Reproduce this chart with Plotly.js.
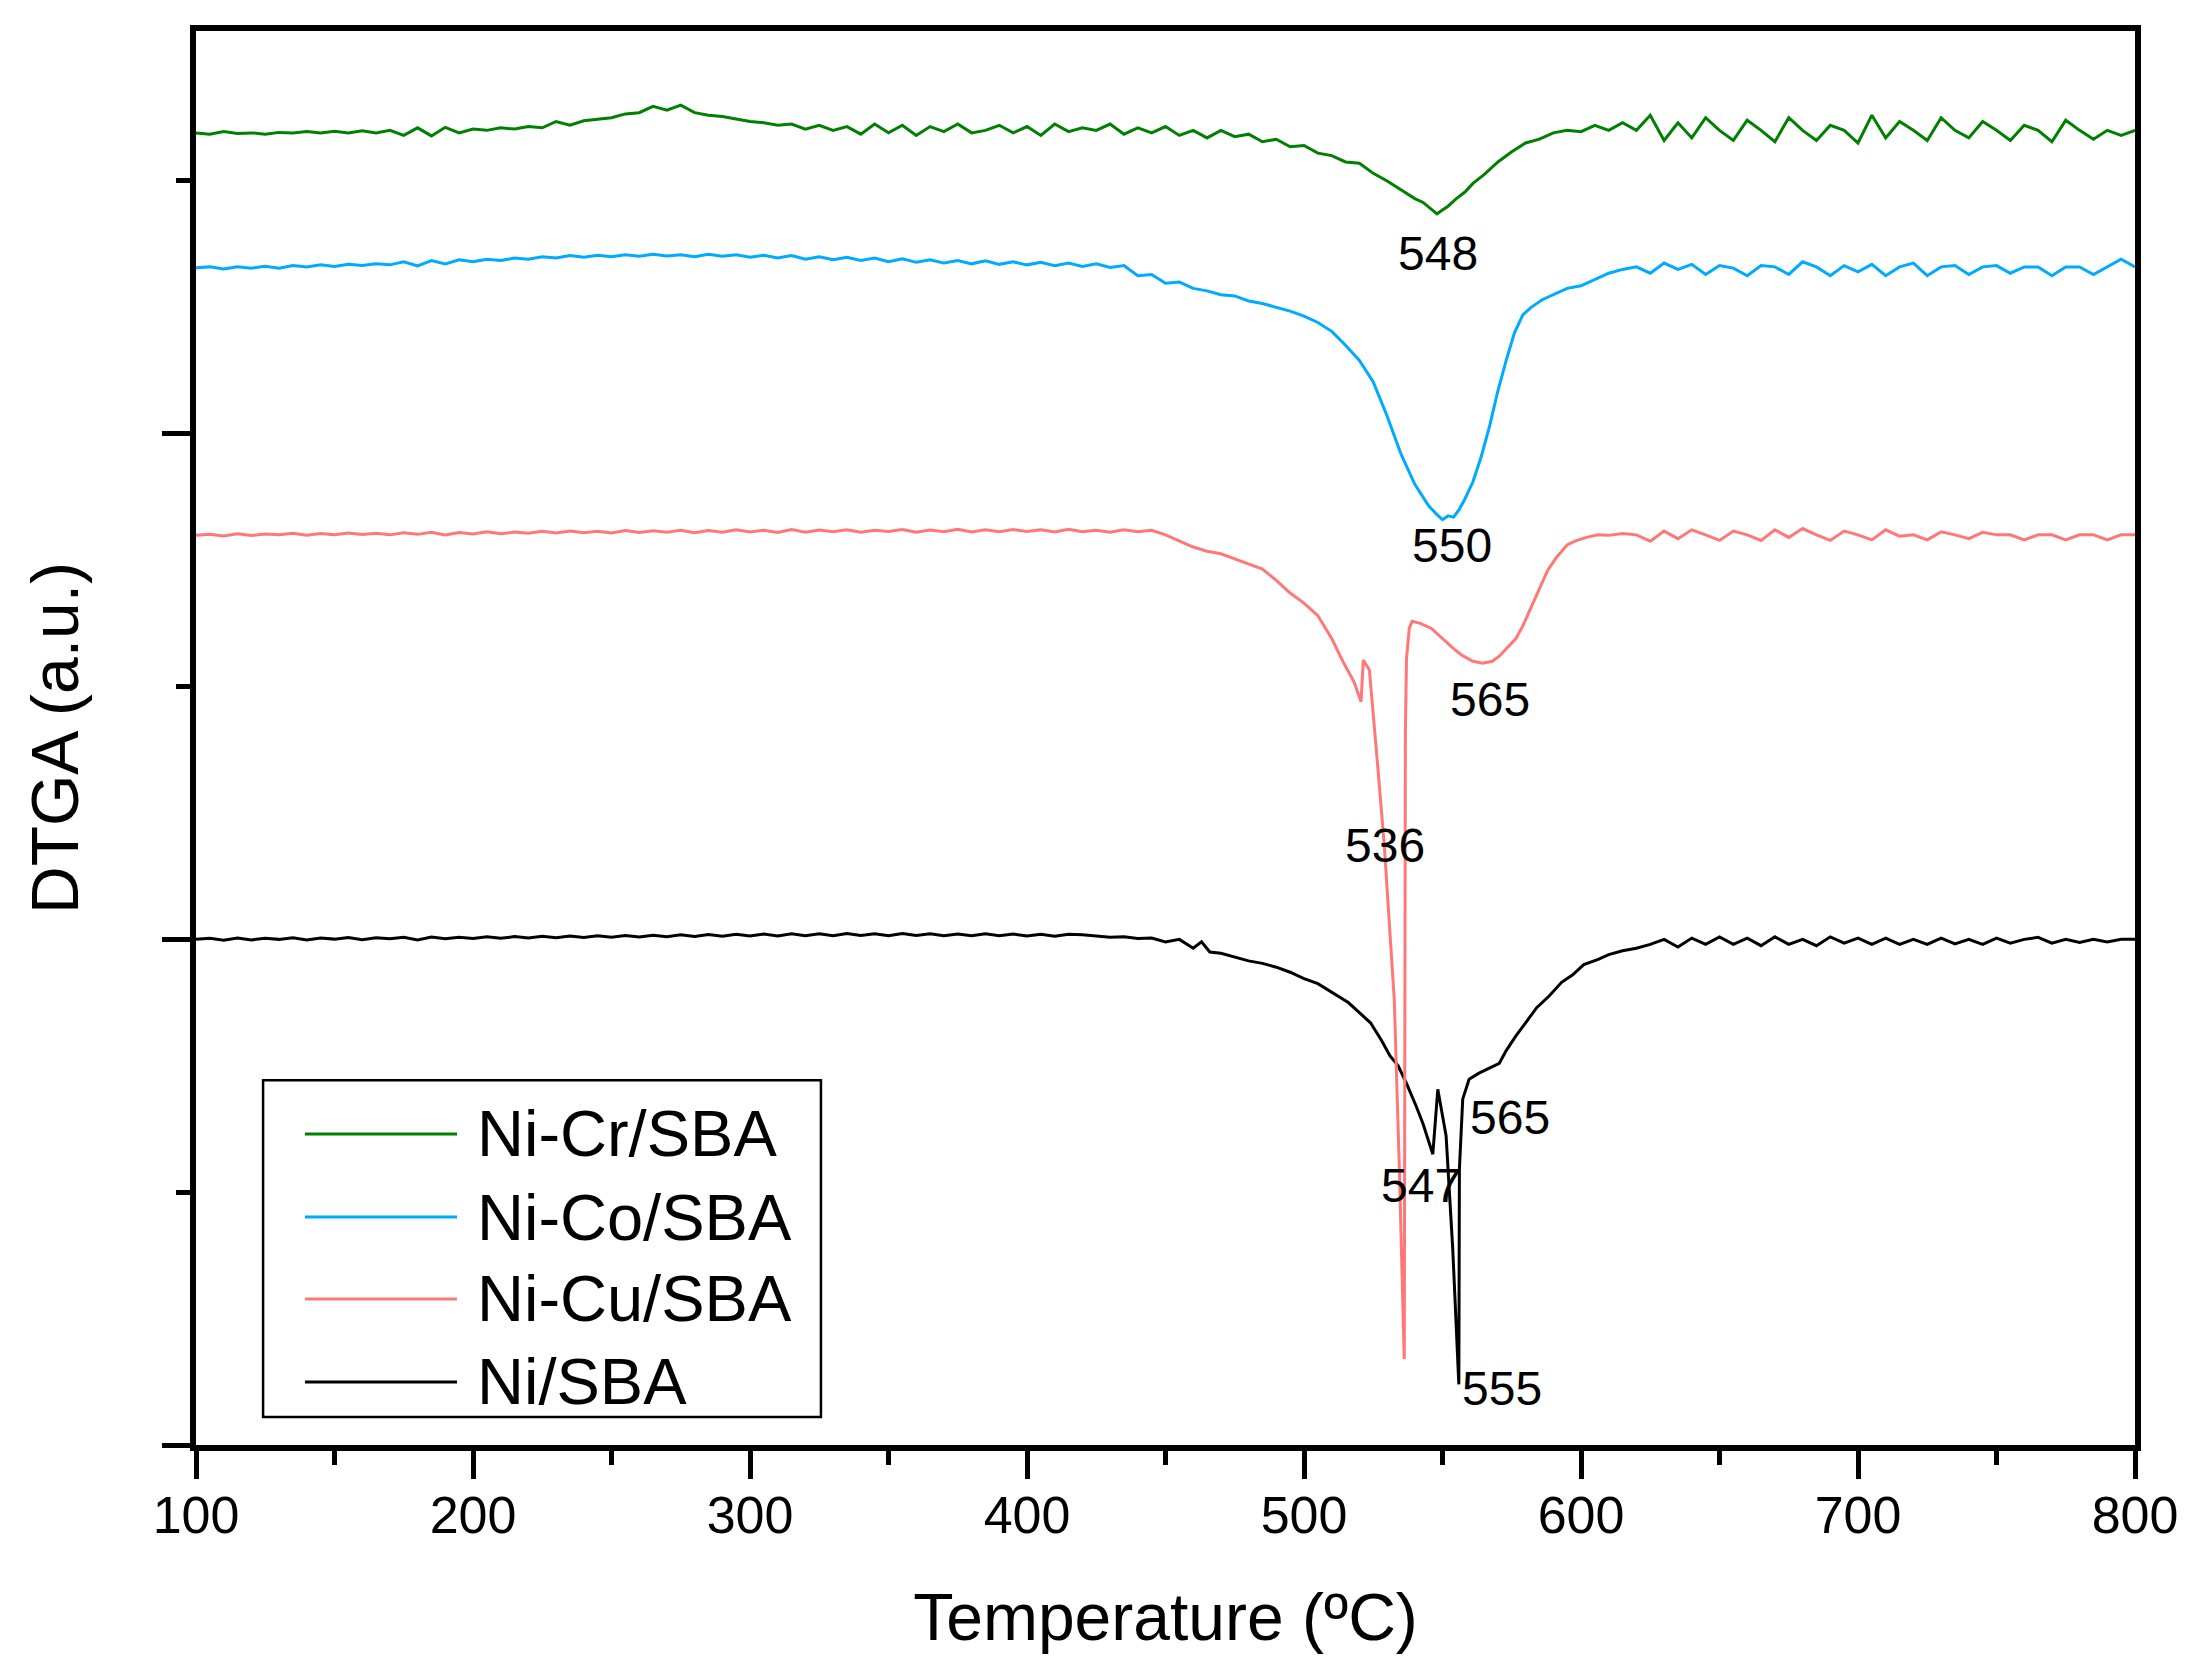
<!DOCTYPE html>
<html>
<head>
<meta charset="utf-8">
<script src="https://cdn.plot.ly/plotly-3.0.1.min.js"></script>
<style>
  body { margin: 0; background: #fff; }
</style>
</head>
<body>
<div id="myDiv"></div>
<script>
// temperature grids shared by all four curves (ºC)
var tempLow = [100, 105, 110, 115, 120, 125, 130, 135, 140, 145,
               150, 155, 160, 165, 170, 175, 180, 185, 190, 195,
               200, 205, 210, 215, 220, 225, 230, 235, 240, 245,
               250, 255, 260, 265, 270, 275, 280, 285, 290, 295,
               300, 305, 310, 315, 320, 325, 330, 335, 340, 345,
               350, 355, 360, 365, 370, 375, 380, 385, 390, 395,
               400, 405, 410, 415, 420, 425, 430, 435, 440];
var tempHigh = [620, 625, 630, 635, 640, 645, 650, 655, 660, 665,
                670, 675, 680, 685, 690, 695, 700, 705, 710, 715,
                720, 725, 730, 735, 740, 745, 750, 755, 760, 765,
                770, 775, 780, 785, 790, 795, 800];

var seriesNames = ['Ni-Cr/SBA', 'Ni-Co/SBA', 'Ni-Cu/SBA', 'Ni/SBA'];
var seriesColors = ['#008000', '#00AAFF', '#FF7777', '#000000'];

// Ni-Cr/SBA
var crLow = [3.19, 3.185, 3.195, 3.188, 3.19, 3.185, 3.192, 3.19, 3.195, 3.19,
             3.196, 3.19, 3.198, 3.19, 3.2, 3.18, 3.21, 3.178, 3.212, 3.19,
             3.205, 3.2, 3.21, 3.205, 3.215, 3.21, 3.235, 3.22, 3.238, 3.245,
             3.25, 3.265, 3.27, 3.295, 3.28, 3.3, 3.27, 3.26, 3.255, 3.245,
             3.235, 3.23, 3.22, 3.225, 3.205, 3.22, 3.2, 3.215, 3.185, 3.225,
             3.19, 3.22, 3.18, 3.215, 3.195, 3.225, 3.19, 3.2, 3.22, 3.19,
             3.215, 3.18, 3.225, 3.195, 3.21, 3.2, 3.225, 3.185, 3.21];
var crMidT = [445, 450, 455, 460, 465, 470, 475, 480, 485, 490, 495, 500, 505, 510, 515, 520,
              525, 530, 535, 540, 543, 546, 548, 550, 552, 555, 558, 561, 565, 570, 575, 580,
              585, 590, 595, 600, 605, 610, 615];
var crMid = [3.19, 3.215, 3.18, 3.2, 3.17, 3.2, 3.175, 3.185, 3.155, 3.165, 3.135, 3.14, 3.11, 3.1, 3.075, 3.07,
             3.03, 3.0, 2.965, 2.93, 2.915, 2.89, 2.87, 2.885, 2.9, 2.93, 2.955, 2.99, 3.025, 3.075, 3.115, 3.15,
             3.165, 3.19, 3.2, 3.195, 3.22, 3.2, 3.23];
var crHigh = [3.2, 3.26, 3.16, 3.23, 3.17, 3.25, 3.2, 3.16, 3.24, 3.2,
              3.155, 3.25, 3.2, 3.16, 3.22, 3.2, 3.15, 3.26, 3.17, 3.235,
              3.2, 3.16, 3.25, 3.2, 3.17, 3.235, 3.2, 3.16, 3.22, 3.2,
              3.155, 3.24, 3.2, 3.165, 3.2, 3.18, 3.2];

// Ni-Co/SBA
var coLow = [2.657, 2.66, 2.652, 2.66, 2.655, 2.662, 2.655, 2.665, 2.66, 2.668,
             2.662, 2.67, 2.665, 2.672, 2.668, 2.68, 2.664, 2.685, 2.672, 2.688,
             2.68, 2.69, 2.685, 2.695, 2.69, 2.7, 2.695, 2.705, 2.698, 2.706,
             2.7, 2.708, 2.702, 2.71, 2.703, 2.708, 2.7, 2.71, 2.702, 2.708,
             2.698, 2.706, 2.695, 2.705, 2.69, 2.7, 2.688, 2.698, 2.685, 2.695,
             2.68, 2.692, 2.678, 2.688, 2.675, 2.685, 2.672, 2.684, 2.67, 2.68,
             2.668, 2.678, 2.665, 2.675, 2.662, 2.672, 2.658, 2.665, 2.625];
var coMidT = [445, 450, 455, 460, 465, 470, 475, 480, 485, 490, 495, 500, 505, 510, 515, 520,
              525, 530, 535, 540, 545, 548, 550, 552, 554, 556, 558, 561, 564, 567, 570, 573,
              576, 579, 582, 586, 590, 595, 600, 605, 610, 615];
var coMid = [2.63, 2.595, 2.6, 2.575, 2.565, 2.55, 2.545, 2.525, 2.515, 2.5, 2.485, 2.465, 2.44, 2.405, 2.35, 2.29,
             2.205, 2.07, 1.92, 1.8, 1.715, 1.68, 1.66, 1.675, 1.67, 1.7, 1.74, 1.81, 1.91, 2.03, 2.17, 2.29,
             2.4, 2.47, 2.5, 2.53, 2.55, 2.575, 2.585, 2.61, 2.635, 2.65];
var coHigh = [2.66, 2.635, 2.675, 2.65, 2.67, 2.63, 2.665, 2.655, 2.625, 2.665,
              2.66, 2.63, 2.68, 2.66, 2.625, 2.665, 2.64, 2.67, 2.625, 2.66,
              2.675, 2.625, 2.66, 2.665, 2.63, 2.66, 2.665, 2.635, 2.66, 2.66,
              2.625, 2.66, 2.66, 2.63, 2.66, 2.69, 2.66];

// Ni-Cu/SBA
var cuLow = [1.598, 1.602, 1.596, 1.604, 1.598, 1.603, 1.6, 1.606, 1.599, 1.605,
             1.6, 1.607, 1.601, 1.606, 1.6, 1.608, 1.602, 1.61, 1.6, 1.609,
             1.603, 1.612, 1.604, 1.611, 1.606, 1.614, 1.607, 1.615, 1.608, 1.614,
             1.607, 1.617, 1.609, 1.616, 1.61, 1.618, 1.608, 1.617, 1.61, 1.62,
             1.611, 1.618, 1.609, 1.621, 1.61, 1.619, 1.612, 1.62, 1.61, 1.618,
             1.613, 1.621, 1.61, 1.619, 1.612, 1.622, 1.611, 1.62, 1.612, 1.621,
             1.613, 1.62, 1.611, 1.622, 1.612, 1.618, 1.61, 1.62, 1.612];
var cuMidT = [445, 450, 455, 460, 465, 470, 475, 480, 485, 490, 495, 500, 505, 510, 514, 518,
              520.6, 521.4, 523.6, 526.6, 529, 532.6, 534.4, 536.2, 536.6, 537, 538, 539, 542, 546, 550, 554,
              557, 561, 564.5, 568, 570.5, 574, 576.5, 579, 581.4, 585, 588, 591, 595, 598, 602, 606,
              610, 615];
var cuMid = [1.618, 1.6, 1.575, 1.552, 1.535, 1.525, 1.505, 1.485, 1.465, 1.42, 1.37, 1.33, 1.28, 1.19, 1.1, 1.02,
             0.94, 1.105, 1.066, 0.687, 0.37, -0.24, -0.9, -1.66, 0.82, 1.11, 1.23, 1.258, 1.25, 1.23, 1.19, 1.15,
             1.124, 1.1, 1.092, 1.1, 1.12, 1.16, 1.19, 1.24, 1.298, 1.39, 1.46, 1.509, 1.56, 1.576, 1.59, 1.6,
             1.598, 1.605];
var cuHigh = [1.6, 1.575, 1.615, 1.585, 1.62, 1.6, 1.578, 1.615, 1.6, 1.578,
              1.62, 1.59, 1.625, 1.6, 1.578, 1.615, 1.6, 1.58, 1.62, 1.595,
              1.6, 1.58, 1.612, 1.6, 1.585, 1.61, 1.6, 1.6, 1.58, 1.6,
              1.6, 1.58, 1.6, 1.6, 1.58, 1.6, 1.6];

// Ni/SBA
var niLow = [0, 0.004, -0.003, 0.005, -0.002, 0.004, 0, 0.006, -0.002, 0.005,
             0.001, 0.007, -0.001, 0.006, 0.002, 0.008, -0.002, 0.009, 0.002, 0.008,
             0.003, 0.01, 0.004, 0.011, 0.005, 0.012, 0.006, 0.013, 0.007, 0.014,
             0.008, 0.015, 0.009, 0.016, 0.01, 0.018, 0.011, 0.019, 0.012, 0.02,
             0.013, 0.021, 0.013, 0.022, 0.014, 0.022, 0.014, 0.023, 0.015, 0.022,
             0.014, 0.023, 0.015, 0.022, 0.014, 0.021, 0.014, 0.022, 0.014, 0.021,
             0.013, 0.02, 0.012, 0.02, 0.018, 0.012, 0.008, 0.01, 0.003];
var niMidT = [445, 450, 455, 460, 463, 466, 470, 475, 480, 485, 490, 495, 500, 505, 510, 516,
              520, 524, 528, 531, 534, 537, 540.5, 543, 546.5, 548.3, 551.3, 553.7, 555.9, 556.1, 557.3, 559.6,
              563, 567, 570.5, 573, 576.5, 580, 584, 588.5, 593, 597, 601, 606, 610, 615];
var niMid = [0.005, -0.01, 0.0, -0.035, -0.01, -0.05, -0.055, -0.07, -0.085, -0.095, -0.11, -0.13, -0.155, -0.175, -0.21, -0.25,
             -0.29, -0.33, -0.4, -0.46, -0.5, -0.57, -0.66, -0.73, -0.85, -0.593, -0.777, -1.225, -1.76, -0.91, -0.632, -0.553,
             -0.53, -0.51, -0.49, -0.44, -0.382, -0.33, -0.27, -0.224, -0.17, -0.14, -0.1, -0.08, -0.06, -0.045];
var niHigh = [-0.035, -0.02, 0.0, -0.03, 0.005, -0.02, 0.01, -0.02, 0.005, -0.025,
              0.01, -0.02, 0.0, -0.025, 0.01, -0.015, 0.005, -0.02, 0.005, -0.02,
              0.0, -0.02, 0.005, -0.018, 0.0, -0.02, 0.005, -0.015, 0.0, 0.008,
              -0.015, 0.0, -0.012, 0.0, -0.01, 0.0, 0.0];

// peak labels
var peakText = ['548', '550', '565', '536', '565', '547', '555'];
var peakT = [548.3, 553.3, 567.2, 529.4, 574.4, 542.2, 571.6];
var peakY = [2.714, 1.556, 0.948, 0.372, -0.703, -0.975, -1.778];

var xs = [
    tempLow.concat(crMidT, tempHigh),
    tempLow.concat(coMidT, tempHigh),
    tempLow.concat(cuMidT, tempHigh),
    tempLow.concat(niMidT, tempHigh)
];
var ys = [
    crLow.concat(crMid, crHigh),
    coLow.concat(coMid, coHigh),
    cuLow.concat(cuMid, cuHigh),
    niLow.concat(niMid, niHigh)
];

// draw Ni/SBA first so the coloured curves sit on top
var data = [];
for (let i = 3; i >= 0; i--) {
    data.push({
        x: xs[i],
        y: ys[i],
        type: 'scatter',
        mode: 'lines',
        name: seriesNames[i],
        line: {color: seriesColors[i], width: 3}
    });
}

var annotations = [];
for (let i = 0; i < peakText.length; i++) {
    annotations.push({
        x: peakT[i], y: peakY[i], xref: 'x', yref: 'y',
        text: peakText[i], showarrow: false,
        xanchor: 'center', yanchor: 'middle',
        font: {size: 48, color: '#000'}
    });
}

// hand-made legend box (long line samples like the original)
var shapes = [{
    type: 'rect', xref: 'paper', yref: 'paper',
    x0: 0.0346, x1: 0.3223, y0: 0.0198, y1: 0.258,
    line: {color: '#000', width: 2.5}, fillcolor: 'rgba(0,0,0,0)'
}];
var legendRows = [0.22, 0.1612, 0.1033, 0.0446];
for (let i = 0; i < 4; i++) {
    shapes.push({
        type: 'line', xref: 'paper', yref: 'paper',
        x0: 0.0562, x1: 0.1346, y0: legendRows[i], y1: legendRows[i],
        line: {color: seriesColors[i], width: 3}
    });
    annotations.push({
        x: 0.1439, y: legendRows[i], xref: 'paper', yref: 'paper',
        text: seriesNames[i], showarrow: false,
        xanchor: 'left', yanchor: 'middle',
        font: {size: 65, color: '#000'}
    });
}

var layout = {
    width: 2193,
    height: 1677,
    margin: {l: 196, r: 58, t: 31, b: 232},
    paper_bgcolor: '#fff',
    plot_bgcolor: '#fff',
    font: {family: 'Liberation Sans, Arial, sans-serif', color: '#000'},
    showlegend: false,
    xaxis: {
        range: [100, 800],
        tick0: 100, dtick: 100,
        ticks: 'outside', ticklen: 28, tickwidth: 5, tickcolor: '#000',
        minor: {dtick: 50, ticks: 'outside', ticklen: 14, tickwidth: 5, tickcolor: '#000', showgrid: false},
        showline: true, linewidth: 6, linecolor: '#000', mirror: true,
        showgrid: false, zeroline: false, automargin: false,
        tickfont: {size: 52},
        ticklabelstandoff: -8,
        title: {text: 'Temperature (ºC)', font: {size: 66}, standoff: 52}
    },
    yaxis: {
        range: [-2, 3.593],
        tick0: 0, dtick: 2,
        ticks: 'outside', ticklen: 28, tickwidth: 5, tickcolor: '#000',
        minor: {tick0: 0, dtick: 1, ticks: 'outside', ticklen: 14, tickwidth: 5, tickcolor: '#000', showgrid: false},
        showticklabels: false,
        showline: true, linewidth: 6, linecolor: '#000', mirror: true,
        showgrid: false, zeroline: false, automargin: false,
        title: {text: 'DTGA (a.u.)', font: {size: 66}, standoff: 64}
    },
    annotations: annotations,
    shapes: shapes
};

Plotly.newPlot('myDiv', data, layout, {displayModeBar: false, staticPlot: true});
</script>
</body>
</html>
